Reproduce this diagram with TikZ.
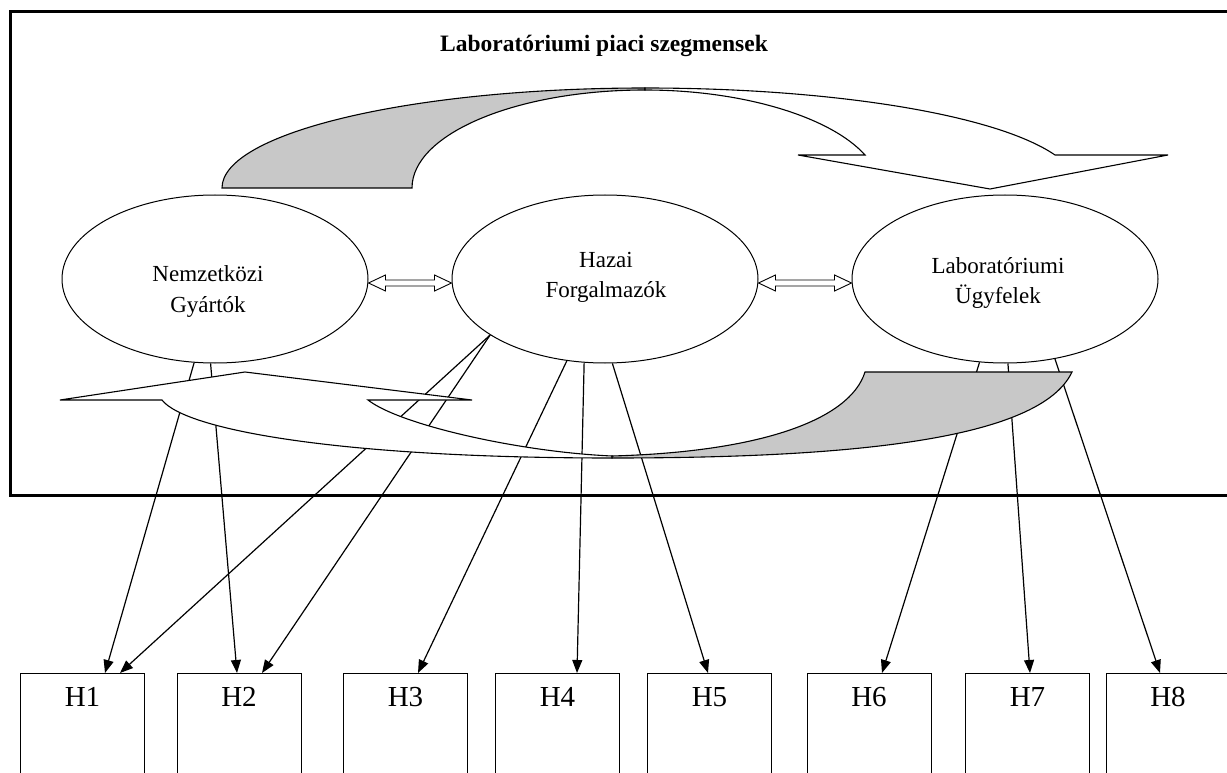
\documentclass[tikz,border=0pt]{standalone}
\usepackage{fontspec}
\setmainfont{Liberation Serif}
\usetikzlibrary{calc,arrows.meta,shapes.geometric}
\definecolor{ribbon}{RGB}{200,200,200}
% hollow two-headed arrow between two coordinates on the same level
\newcommand\twowaylink[2]{%
  \draw[hollow] (#1) -- ++(17,-8) -- ++(0,5) -- ($(#2)+(-17,-3)$) -- ++(0,-5)
    -- (#2) -- ++(-17,8) -- ++(0,-5) -- ($(#1)+(17,3)$) -- ++(0,5) -- cycle;}
\begin{document}
\begin{tikzpicture}[x=1pt,y=-1pt,
  segment/.style={ellipse,draw,line width=1pt,fill=white,minimum width=306pt,
    minimum height=168pt,inner sep=0pt},
  segtext/.style={font=\fontsize{23}{28}\selectfont,anchor=base,inner sep=0pt},
  heading/.style={font=\bfseries\fontsize{23.5}{28}\selectfont,anchor=base,inner sep=0pt},
  hbox/.style={draw,line width=1pt,minimum width=124pt,minimum height=160pt,
    anchor=north,inner sep=0pt},
  hlabel/.style={font=\fontsize{29}{32}\selectfont,inner sep=0pt},
  conn/.style={line width=1.2pt,-{Triangle[length=13pt,width=10pt]}},
  hollow/.style={draw,line width=0.9pt,fill=white,line join=miter},
  ribbonlight/.style={draw,line width=1.1pt,fill=white,line join=miter},
  ribbondark/.style={draw,line width=1.1pt,fill=ribbon,line join=miter}]

\useasboundingbox (0,0) rectangle (1227,773);
\clip (0,0) rectangle (1227,773);

% outer frame and heading
\draw[line width=3pt] (10,12) rectangle (1250,495);
\node[heading] (title) at (604,52) {Laboratóriumi piaci szegmensek};

% the three market segments
\node[segment] (e1) at (215,279) {};
\node[segment] (e2) at (605,279) {};
\node[segment] (e3) at (1005,279) {};
\node[segtext] (e1a) at (208,281) {Nemzetközi};
\node[segtext] (e1b) at (208,312) {Gyártók};
\node[segtext] (e2a) at (606,267) {Hazai};
\node[segtext] (e2b) at (606,297) {Forgalmazók};
\node[segtext] (e3a) at (998,273) {Laboratóriumi};
\node[segtext] (e3b) at (998,303) {Ügyfelek};

% hypothesis boxes
\node[hbox] (h1) at (82.5,673) {};
\node[hbox] (h2) at (239,673) {};
\node[hbox] (h3) at (405.5,673) {};
\node[hbox] (h4) at (557.5,673) {};
\node[hbox] (h5) at (709.5,673) {};
\node[hbox] (h6) at (869,673) {};
\node[hbox] (h7) at (1027.5,673) {};
\node[hbox] (h8) at (1168,673) {};
\foreach \i in {1,...,8}
  \node[hlabel] (l\i) at ($(h\i.north)+(0,24)$) {H\i};

% links from the segments to the hypotheses
\draw[conn] (e1.-104.2) -- ($(h1.north)+(22.5,0)$);
\draw[conn] (e1.-93.4)  -- ($(h2.north)+(-2,0)$);
\draw[conn] (e2.-154.6) -- ($(h1.north)+(37.5,0)$);
\draw[conn] (e2.-154.6) -- ($(h2.north)+(23,0)$);
\draw[conn] (e2.-115.7) -- ($(h3.north)+(12.5,0)$);
\draw[conn] (e2.-104.2) -- ($(h4.north)+(19.5,0)$);
\draw[conn] (e2.-85.2)  -- ($(h5.north)+(-1.5,0)$);
\draw[conn] (e3.-107.4) -- ($(h6.north)+(13,0)$);
\draw[conn] (e3.-88.6)  -- ($(h7.north)+(2.5,0)$);
\draw[conn] (e3.-58.4)  -- ($(h8.north)+(-8,0)$);

% curved arrow over the top, left to right
\draw[ribbondark] (222,188) .. controls (222,133) and (411,88) .. (645,88)
  -- (645,90) .. controls (516,90) and (412,134) .. (412,188) -- cycle;
\draw[ribbonlight] (645,88) .. controls (830,88) and (995,114) .. (1055,155)
  -- (1168,155) -- (990,189) -- (798,155) -- (865,155)
  .. controls (831,117) and (743,90) .. (645,90) -- cycle;

% curved arrow underneath, right to left
\draw[ribbondark] (865,372) -- (1072,372) .. controls (1040,440) and (850,458) .. (612,458)
  -- (612,456) .. controls (760,452) and (850,420) .. (865,372) -- cycle;
\draw[ribbonlight] (60,400) -- (245,372) -- (472,400) -- (368,400)
  .. controls (400,425) and (520,452) .. (612,456) -- (612,458)
  .. controls (340,458) and (185,430) .. (162,400) -- cycle;

% two-way links between neighbouring segments
\coordinate (a1) at ($(e1.east)+(0,4)$);
\coordinate (b1) at ($(e2.west)+(0,4)$);
\coordinate (a2) at ($(e2.east)+(0,4)$);
\coordinate (b2) at ($(e3.west)+(0,4)$);
\twowaylink{a1}{b1}
\twowaylink{a2}{b2}
\end{tikzpicture}
\end{document}
